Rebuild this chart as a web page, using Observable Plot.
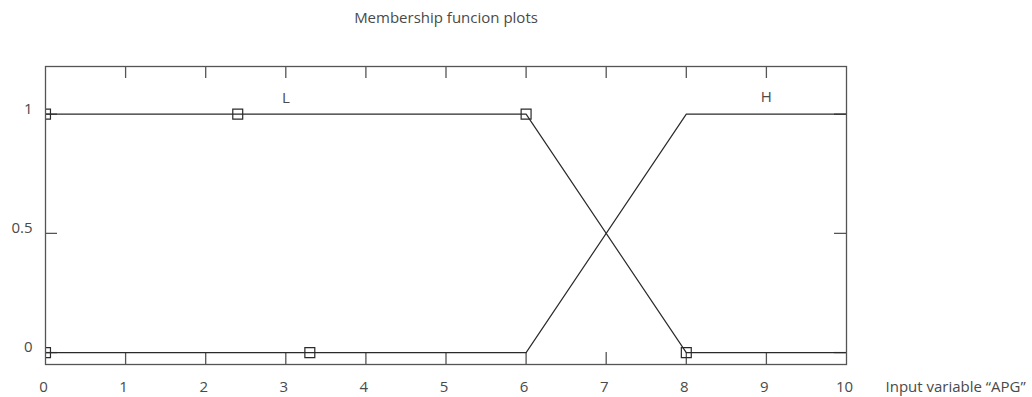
<!DOCTYPE html>
<html>
<head>
<meta charset="utf-8">
<script src="https://cdn.jsdelivr.net/npm/d3@7"></script>
<script src="https://cdn.jsdelivr.net/npm/@observablehq/plot@0.6"></script>
<style>
  html, body { margin: 0; padding: 0; background: #fff; }
  svg { display: block; }
</style>
</head>
<body>
<div id="chart"></div>
<script>
// ---- data ----
const inputX = [0, 6, 8, 10];
const mfL = [1, 1, 0, 0];
const mfH = [0, 0, 1, 1];
const mfNames = ["L", "H"];
const mfLabelX = [3, 9];
const mfLabelY = [1.067, 1.072];
const markerX = [0, 2.4, 6, 0, 3.3, 8];
const markerY = [1, 1, 1, 0, 0, 0];
const xTicks = [0, 1, 2, 3, 4, 5, 6, 7, 8, 9, 10];
const innerXTicks = [1, 2, 3, 4, 5, 6, 7, 8, 9];
const yTicks = [0, 0.5, 1];
const yTickLabels = ["0", "0.5", "1"];
const xDomain = [0, 10];
const yDomain = [-0.05, 1.2];
const title = "Membership funcion plots";
const xLabel = "Input variable \u201CAPG\u201D";

// ---- build ----
const lineData = [];
inputX.forEach((x, i) => lineData.push({x, y: mfL[i], mf: "L"}));
inputX.forEach((x, i) => lineData.push({x, y: mfH[i], mf: "H"}));
const markers = markerX.map((x, i) => ({x, y: markerY[i]}));
const labels = mfNames.map((n, i) => ({n, x: mfLabelX[i], y: mfLabelY[i]}));
const yt = yTicks.map((v, i) => ({v, t: yTickLabels[i]}));
const xTickLen = (xDomain[1] - xDomain[0]) * 12 / 800;
const yTickLen = (yDomain[1] - yDomain[0]) * 12 / 298;

const ink = "#2a2a2a";
const frameInk = "#555";
const textInk = "#4a4a4a";
const fs = 15;

const chart = Plot.plot({
  width: 1032,
  height: 397,
  marginLeft: 45,
  marginRight: 186,
  marginTop: 66,
  marginBottom: 33,
  style: {fontFamily: "'Open Sans', 'Noto Sans', sans-serif", fontSize: fs + "px", color: textInk, background: "#fff"},
  x: {domain: xDomain, axis: null},
  y: {domain: yDomain, axis: null},
  marks: [
    // inner ticks bottom/top
    Plot.ruleX(innerXTicks, {x: d => d, y1: yDomain[0], y2: yDomain[0] + yTickLen, stroke: frameInk, strokeWidth: 1.3}),
    Plot.ruleX(innerXTicks, {x: d => d, y1: yDomain[1], y2: yDomain[1] - yTickLen, stroke: frameInk, strokeWidth: 1.3}),
    // inner ticks left/right
    Plot.ruleY(yTicks, {y: d => d, x1: xDomain[0], x2: xDomain[0] + xTickLen, stroke: frameInk, strokeWidth: 1.3}),
    Plot.ruleY(yTicks, {y: d => d, x1: xDomain[1], x2: xDomain[1] - xTickLen, stroke: frameInk, strokeWidth: 1.3}),
    // membership functions
    Plot.line(lineData, {x: "x", y: "y", z: "mf", stroke: ink, strokeWidth: 1.2}),
    // markers
    Plot.dot(markers, {x: "x", y: "y", symbol: "square", r: 5.6, stroke: ink, fill: "none", strokeWidth: 1.2, clip: "frame"}),
    // mf labels
    Plot.text(labels, {x: "x", y: "y", text: "n", fill: textInk, fontSize: fs}),
    // frame
    Plot.frame({stroke: frameInk, strokeWidth: 1.3}),
    // x tick labels
    Plot.text(xTicks, {x: d => d, y: yDomain[0], text: d => String(d), dy: 23, dx: -2, fill: textInk, fontSize: fs}),
    // y tick labels
    Plot.text(yt, {x: xDomain[0], y: "v", text: "t", textAnchor: "end", dx: -13, dy: -5, fill: textInk, fontSize: fs}),
    // x label
    Plot.text([xLabel], {x: xDomain[1], y: yDomain[0], text: d => d, textAnchor: "start", dx: 39, dy: 23, fill: textInk, fontSize: fs}),
    // title
    Plot.text([title], {x: (xDomain[0] + xDomain[1]) / 2, y: yDomain[1], text: d => d, dy: -48, fill: textInk, fontSize: fs})
  ]
});
document.getElementById("chart").appendChild(chart);
</script>
</body>
</html>
